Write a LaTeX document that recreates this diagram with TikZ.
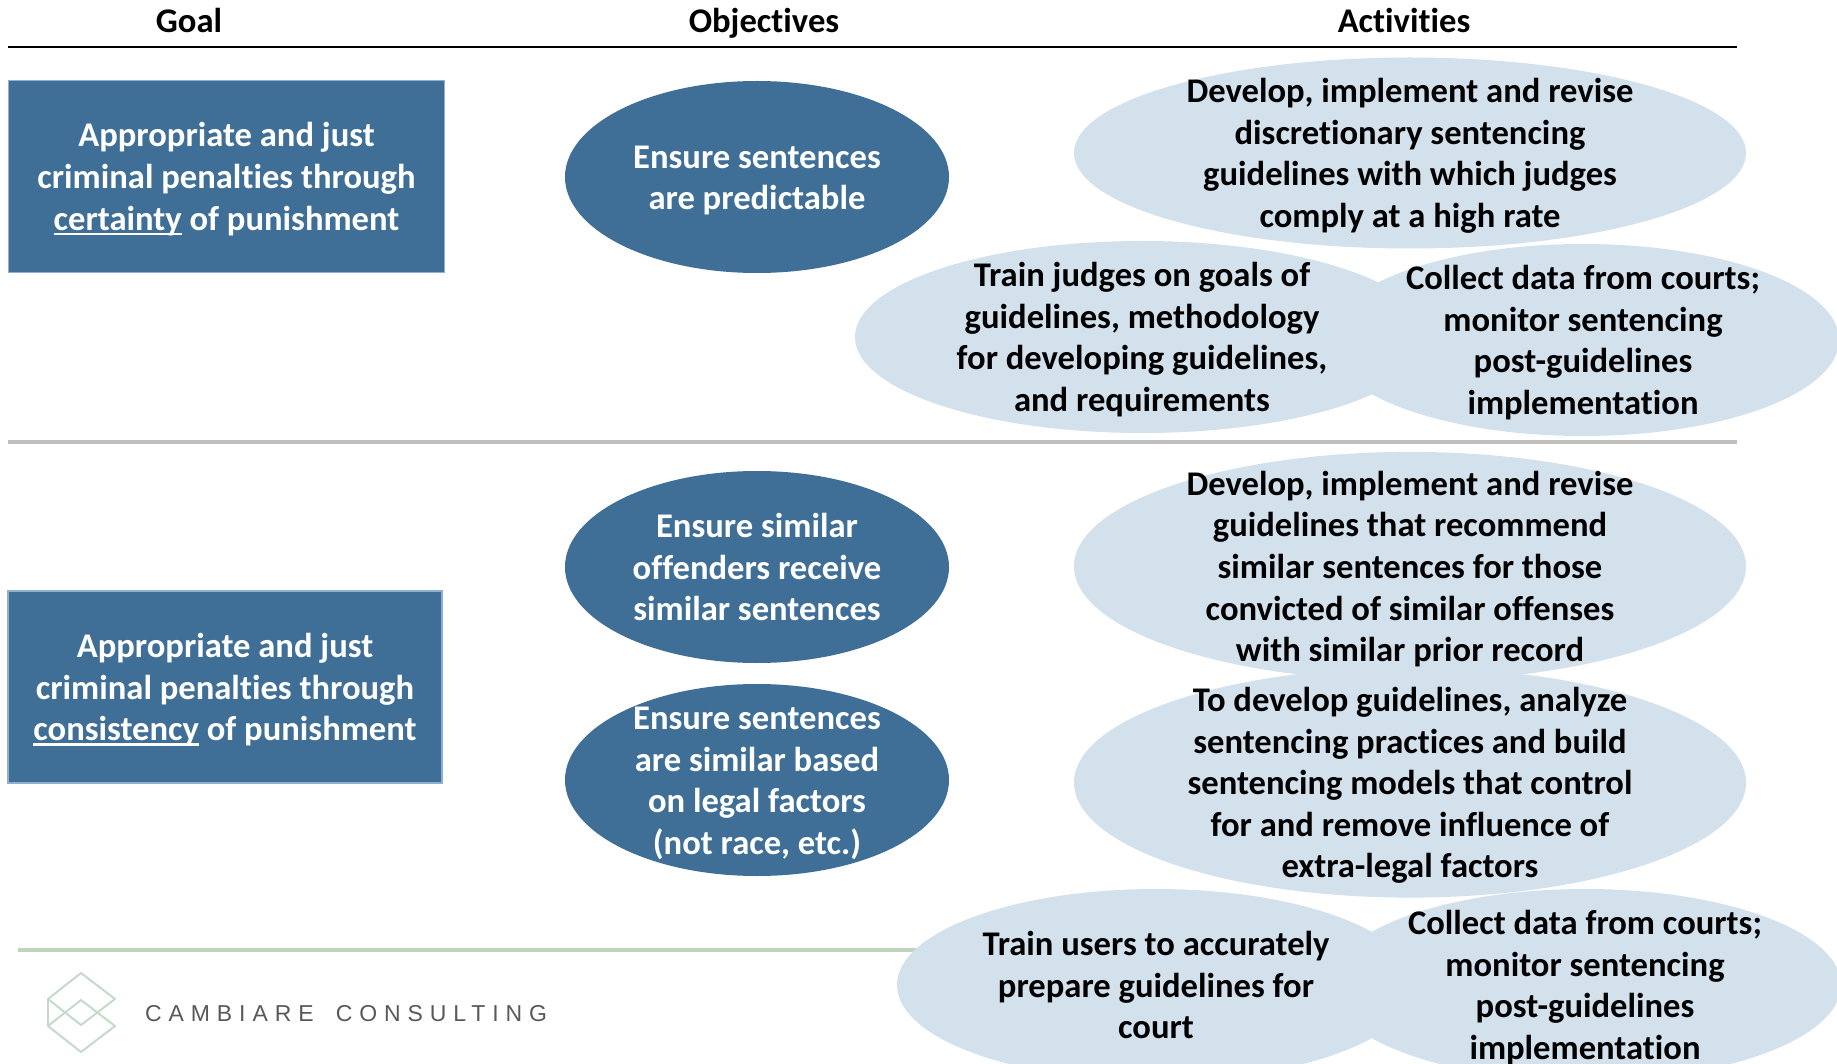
\documentclass[tikz,border=0pt]{standalone}
\usepackage{fontspec}
\setmainfont[Ligatures=NoCommon]{Carlito}
\newfontfamily\logofont[LetterSpace=30]{Liberation Sans}
\usetikzlibrary{shapes.geometric}
\definecolor{darkblue}{HTML}{3F6F97}
\definecolor{boxedge}{HTML}{8FB0D0}
\definecolor{lightblue}{HTML}{D3E1ED}
\definecolor{greenline}{HTML}{BED4BC}
\definecolor{logogreen}{HTML}{C5DACB}
\definecolor{greyline}{HTML}{BFBFBF}
\definecolor{logotext}{HTML}{595959}
\newcommand{\ulword}[1]{\setbox0\hbox{#1}\rlap{\smash{\rule[-5pt]{\wd0}{2.5pt}}}\box0{}}
\tikzset{
  x=1pt,y=-1pt,
  body/.style={font=\fontsize{34.6}{41.6}\selectfont\bfseries,align=center,inner sep=0pt,yshift=-3.7pt},
  bodywhite/.style={body,text=white},
  bodyblack/.style={body,text=black},
  goalbox/.style={fill=darkblue,draw=boxedge,line width=1.2pt,rectangle,inner sep=0pt},
  objective/.style={fill=darkblue,ellipse,inner sep=0pt,minimum width=384pt,minimum height=192pt},
  activity/.style={fill=lightblue,ellipse,inner sep=0pt},
  header/.style={font=\fontsize{34.6}{40}\selectfont\bfseries,inner sep=0pt,text=black,anchor=base},
}
\begin{document}
\begin{tikzpicture}
\clip (0,0) rectangle (1837,1064);
\fill[white] (0,0) rectangle (1837,1064);
% headers
\node[header] (hgoal) at (189,33) {Goal};
\node[header] (hobj) at (764,33) {Objectives};
\node[header] (hact) at (1404,33) {Activities};
\coordinate (tl) at (8,47);
\coordinate (tr) at (1737,47);
\draw[black,line width=1.5pt] (tl) -- (tr);
\coordinate (gl) at (8,442);
\coordinate (gr) at (1737,442);
\draw[greyline,line width=4.5pt] (gl) -- (gr);
\coordinate (gnl) at (18,950);
\coordinate (gnr) at (930,950);
\draw[greenline,line width=4pt] (gnl) -- (gnr);
% shapes
\node[goalbox,minimum width=436pt,minimum height=192pt] (goal1) at (226.5,176.5) {};
\node[goalbox,minimum width=434pt,minimum height=192pt] (goal2) at (225,687) {};
\node[objective] (o1) at (757,177) {};
\node[objective] (o2) at (757,567) {};
\node[objective] (o3) at (757,780) {};
\node[activity,minimum width=672pt,minimum height=191pt] (a1) at (1410,153) {};
\node[activity,minimum width=574pt,minimum height=192pt] (a2) at (1142,337) {};
\node[activity,minimum width=512pt,minimum height=192pt] (a3) at (1583,340) {};
\node[activity,minimum width=672pt,minimum height=229pt] (a4) at (1410,566.4) {};
\node[activity,minimum width=672pt,minimum height=230pt] (a5) at (1410,782.6) {};
\node[activity,minimum width=518pt,minimum height=192pt] (a6) at (1156,985) {};
\node[activity,minimum width=512pt,minimum height=192pt] (a7) at (1585,985) {};
% texts
\node[bodywhite] (tgoal1) at (goal1) {\strut Appropriate and just\\criminal penalties through\\\ulword{certainty} of punishment\strut};
\node[bodywhite] (tgoal2) at (goal2) {\strut Appropriate and just\\criminal penalties through\\\ulword{consistency} of punishment\strut};
\node[bodywhite] (to1) at (o1) {\strut Ensure sentences\\are predictable\strut};
\node[bodywhite] (to2) at (o2) {\strut Ensure similar\\offenders receive\\similar sentences\strut};
\node[bodywhite] (to3) at (o3) {\strut Ensure sentences\\are similar based\\on legal factors\\(not race, etc.)\strut};
\node[bodyblack] (ta1) at (a1) {\strut Develop, implement and revise\\discretionary sentencing\\guidelines with which judges\\comply at a high rate\strut};
\node[bodyblack] (ta2) at (a2) {\strut Train judges on goals of\\guidelines, methodology\\for developing guidelines,\\and requirements\strut};
\node[bodyblack] (ta3) at (a3) {\strut Collect data from courts;\\monitor sentencing\\post-guidelines\\implementation\strut};
\node[bodyblack] (ta4) at (a4) {\strut Develop, implement and revise\\guidelines that recommend\\similar sentences for those\\convicted of similar offenses\\with similar prior record\strut};
\node[bodyblack] (ta5) at (a5) {\strut To develop guidelines, analyze\\sentencing practices and build\\sentencing models that control\\for and remove influence of\\extra-legal factors\strut};
\node[bodyblack] (ta6) at (a6) {\strut Train users to accurately\\prepare guidelines for\\court\strut};
\node[bodyblack] (ta7) at (a7) {\strut Collect data from courts;\\monitor sentencing\\post-guidelines\\implementation\strut};
% logo
\draw[logogreen,line width=2pt,line join=round] (81,973) -- (115,999) -- (81,1025) -- (48,999) -- cycle;
\draw[logogreen,line width=2pt,line join=round] (81,1000) -- (115,1026) -- (81,1052) -- (48,1026) -- cycle;
\draw[logogreen,line width=2pt] (48,999) -- (48,1026);
\node[anchor=west,inner sep=0pt,text=logotext,font=\fontsize{23}{28}\logofont] (logo) at (145,1013.5) {CAMBIARE\hspace{9pt} CONSULTING};
\end{tikzpicture}
\end{document}
